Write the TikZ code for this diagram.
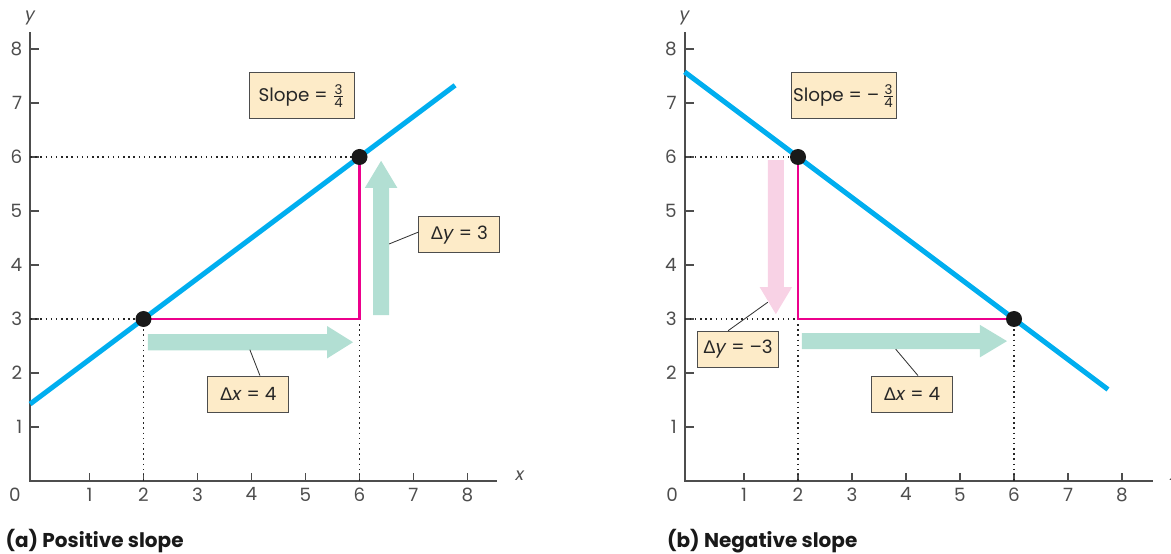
\documentclass[tikz,border=0pt]{standalone}
\usepackage{fontspec}
\setmainfont{Poppins}
\newfontfamily\grk{Liberation Sans}
\usetikzlibrary{calc}
\definecolor{lineblue}{HTML}{00AEEF}
\definecolor{mag}{HTML}{EC008C}
\definecolor{tealar}{HTML}{B2DFD3}
\definecolor{pinkar}{HTML}{F8D2E5}
\definecolor{boxfill}{HTML}{FDEBC8}
\definecolor{axisgray}{HTML}{4D4D4D}
\newcommand{\fr}[1]{\mbox{\fontsize{8}{8}\selectfont #1}}
\newcommand{\Dl}{{\grk Δ}}
\tikzset{
  axisline/.style={draw=axisgray, line width=1.1pt},
  tickmark/.style={draw=axisgray, line width=0.9pt},
  lbl/.style={text=axisgray, font=\fontsize{11}{12}\selectfont, inner sep=0pt},
  axlbl/.style={text=axisgray, font=\fontsize{10.5}{12}\selectfont\itshape, inner sep=0pt},
  boxlbl/.style={draw=axisgray, fill=boxfill, line width=0.6pt, minimum width=48.6pt, minimum height=21.6pt, inner sep=0pt, font=\fontsize{11}{13}\selectfont, text=black!85},
  slopebox/.style={boxlbl, minimum width=63pt, minimum height=27.6pt},
  curve/.style={draw=lineblue, line width=3pt},
  legs/.style={draw=mag, line width=1.5pt},
  guide/.style={draw=black!85, line width=0.9pt, dash pattern=on 0.9pt off 2.2pt},
  leader/.style={draw=black!80, line width=0.5pt},
  pt/.style={circle, fill=black!90, inner sep=0pt, minimum size=9.6pt},
  caption/.style={font=\fontsize{12}{14}\selectfont\bfseries, inner sep=0pt, anchor=west, text=black!90}
}
\begin{document}
\begin{tikzpicture}
\useasboundingbox (0,0) rectangle (702.6pt,332.4pt);

% ---------- Panel (a) ----------
\begin{scope}[shift={(21.3pt,43.8pt)}, x=32.4pt, y=32.4pt]
  \coordinate (ao) at (-0.1,0);
  \coordinate (ayt) at (-0.1,8.31);
  \coordinate (axr) at (8.55,0);
  \draw[axisline] (ayt) -- (ao) -- (axr);
  \foreach \i in {1,...,8} {
    \draw[tickmark] (\i,0) -- (\i,0.15);
    \node[lbl, anchor=north] (axt\i) at (\i,-0.12) {\i};
    \draw[tickmark] (-0.1,\i) -- (0.07,\i);
    \node[lbl, anchor=east] (ayl\i) at (-0.24,\i) {\i};
  }
  \node[lbl, anchor=north] (azero) at (-0.38,-0.12) {0};
  \node[axlbl] (aylab) at (-0.1,8.57) {y};
  \node[axlbl] (axlab) at (8.97,0.1) {x};

  % arrows
  \fill[tealar] (2.08,2.42) -- (5.4,2.42) -- (5.4,2.27) -- (5.88,2.57) -- (5.4,2.87) -- (5.4,2.72) -- (2.08,2.72) -- cycle;
  \fill[tealar] (6.25,3.07) -- (6.25,5.43) -- (6.1,5.43) -- (6.4,5.93) -- (6.7,5.43) -- (6.55,5.43) -- (6.55,3.07) -- cycle;
  \coordinate (adxa) at (3.97,2.43);
  \coordinate (adya) at (6.55,4.39);

  % guides
  \coordinate (aA) at (2,3);
  \coordinate (aB) at (6,6);
  \coordinate (aC) at (6,3);
  \draw[guide] (-0.1,6) -- (aB);
  \draw[guide] (-0.1,3) -- (aA);
  \draw[guide] (aA) -- (2,0);
  \draw[guide] (aC) -- (6,0);
  \draw[legs] (aA) -- (aC) -- (aB);
  \draw[curve] (-0.1,1.425) -- (7.77,7.3275);
  \node[pt] (ap1) at (aA) {};
  \node[pt] (ap2) at (aB) {};

  \node[slopebox] (aslope) at (4.93,7.13) {Slope = $\frac{\fr{3}}{\fr{4}}$};
  \node[boxlbl] (ady) at (7.85,4.56) {\Dl\textit{y} = 3};
  \node[boxlbl] (adx) at (3.94,1.61) {\Dl\textit{x} = 4};
  \draw[leader] ([yshift=1.6pt]ady.west) -- (adya);
  \draw[leader] ([xshift=7pt]adx.north) -- (adxa);

  \node[caption] (acap) at (-0.56,-1.11) {(a) Positive slope};
\end{scope}

% ---------- Panel (b) ----------
\begin{scope}[shift={(414pt,43.8pt)}, x=32.4pt, y=32.4pt]
  \coordinate (bo) at (-0.1,0);
  \coordinate (byt) at (-0.1,8.31);
  \coordinate (bxr) at (8.57,0);
  \draw[axisline] (byt) -- (bo) -- (bxr);
  \foreach \i in {1,...,8} {
    \draw[tickmark] (\i,0) -- (\i,0.15);
    \node[lbl, anchor=north] (bxt\i) at (\i,-0.12) {\i};
    \draw[tickmark] (-0.1,\i) -- (0.07,\i);
    \node[lbl, anchor=east] (byl\i) at (-0.24,\i) {\i};
  }
  \node[lbl, anchor=north] (bzero) at (-0.33,-0.12) {0};
  \node[axlbl] (bylab) at (-0.1,8.57) {y};
  \node[axlbl] (bxlab) at (8.97,0.1) {x};

  % arrows
  \fill[pinkar] (1.44,5.94) -- (1.44,3.59) -- (1.29,3.59) -- (1.59,3.09) -- (1.89,3.59) -- (1.74,3.59) -- (1.74,5.94) -- cycle;
  \fill[tealar] (2.07,2.44) -- (5.37,2.44) -- (5.37,2.29) -- (5.87,2.59) -- (5.37,2.89) -- (5.37,2.74) -- (2.07,2.74) -- cycle;
  \coordinate (bdya) at (1.44,3.31);
  \coordinate (bdxa) at (3.81,2.44);

  % guides
  \coordinate (bA) at (2,6);
  \coordinate (bB) at (6,3);
  \coordinate (bC) at (2,3);
  \draw[guide] (-0.1,6) -- (bA);
  \draw[guide] (-0.1,3) -- (bC);
  \draw[guide] (bC) -- (2,0);
  \draw[guide] (bB) -- (6,0);
  \draw[legs] (bA) -- (bC) -- (bB);
  \draw[curve] (-0.1,7.575) -- (7.74,1.695);
  \node[pt] (bp1) at (bA) {};
  \node[pt] (bp2) at (bB) {};

  \node[slopebox] (bslope) at (2.85,7.13) {Slope = –\,$\frac{\fr{3}}{\fr{4}}$};
  \node[boxlbl] (bdy) at (0.89,2.44) {\Dl\textit{y} = –3};
  \node[boxlbl] (bdx) at (4.11,1.61) {\Dl\textit{x} = 4};
  \draw[leader] ([xshift=-6pt]bdy.north) -- (bdya);
  \draw[leader] ([xshift=3.6pt]bdx.north) -- (bdxa);

  \node[caption] (bcap) at (-0.43,-1.11) {(b) Negative slope};
\end{scope}
\end{tikzpicture}
\end{document}
